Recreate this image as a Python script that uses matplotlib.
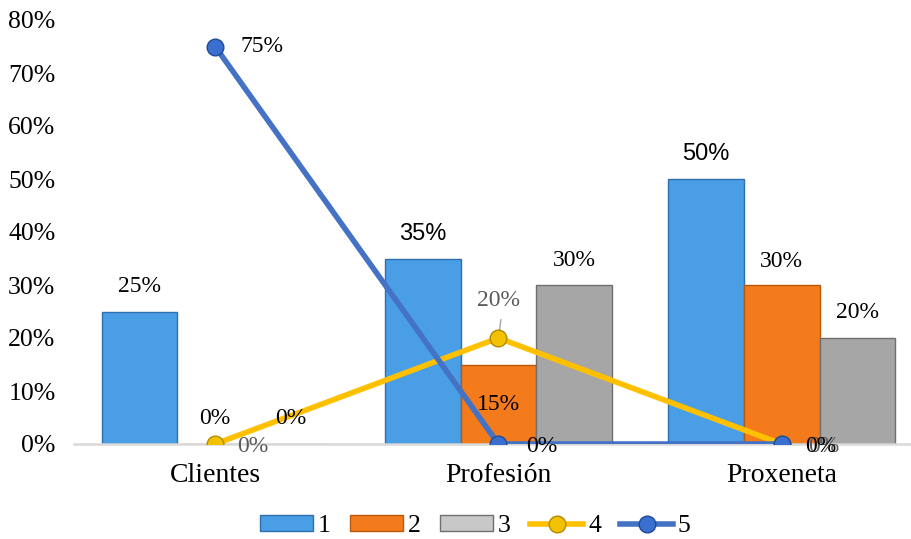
import numpy as np
import matplotlib.pyplot as plt
from matplotlib.lines import Line2D
from matplotlib.patches import Patch

# Data
categories = ["Clientes", "Profesión", "Proxeneta"]
serie_1 = [0.25, 0.35, 0.50]
serie_2 = [0.00, 0.15, 0.30]
serie_3 = [0.00, 0.30, 0.20]
serie_4 = [0.00, 0.20, 0.00]
serie_5 = [0.75, 0.00, 0.00]
legend_labels = ["1", "2", "3", "4", "5"]
y_ticks = [0.0, 0.1, 0.2, 0.3, 0.4, 0.5, 0.6, 0.7, 0.8]

plt.rcParams["font.family"] = ["Liberation Serif", "DejaVu Serif"]

fig = plt.figure(figsize=(9.11, 5.39), dpi=100)
ax = fig.add_axes([73.5 / 911, 95 / 539, (911 - 73.5) / 911, 424 / 539])

x = np.arange(len(categories))
width = 0.267

bar_styles = [
    ("#4a9ee6", "#2f6fae"),
    ("#f37b1c", "#b8580d"),
    ("#a6a6a6", "#6f6f6f"),
]
bar_series = [serie_1, serie_2, serie_3]
for i, (vals, (fc, ec)) in enumerate(zip(bar_series, bar_styles)):
    ax.bar(x + (i - 1) * width, vals, width, color=fc, edgecolor=ec,
           linewidth=1.0, zorder=2)

ax.plot(x, serie_4, color="#ffc000", linewidth=4, marker="o", markersize=12,
        markerfacecolor="#f2c200", markeredgecolor="#b08a00", zorder=4)
ax.plot(x, serie_5, color="#4472c4", linewidth=4, marker="o", markersize=12,
        markerfacecolor="#3a6fd0", markeredgecolor="#1f4a94", zorder=5)


def pct(v):
    return f"{v * 100:.0f}%"


def label(xv, yv, text, dx, dy, color="black", family=None):
    kw = {}
    if family:
        kw["family"] = family
    ax.annotate(text, (xv, yv), xytext=(dx, dy), textcoords="offset points",
                ha="center", va="center", fontsize=17, color=color, zorder=6, **kw)


# bar labels
for i, v in enumerate(serie_1):
    fam = ["Liberation Sans"] if i > 0 else None
    label(x[i] - width, v, pct(v), 0, 18, family=fam)
label(x[0], serie_2[0], pct(serie_2[0]), 0, 18)
label(x[1], serie_2[1], pct(serie_2[1]), 0, -29)
label(x[2], serie_2[2], pct(serie_2[2]), 0, 17)
for i, v in enumerate(serie_3):
    label(x[i] + width, v, pct(v), 0, 18)

# line 4 labels
label(x[0], serie_4[0], pct(serie_4[0]), 27, -2, color="#595959")
label(x[1], serie_4[1], pct(serie_4[1]), 0, 27, color="#595959")
ax.annotate("", (x[1], serie_4[1]), xytext=(x[1] + 0.01, serie_4[1] + 0.04),
            arrowprops=dict(arrowstyle="-", color="#a6a6a6", lw=1), zorder=3)
label(x[2], serie_4[2], pct(serie_4[2]), 30, -2, color="#595959")

# line 5 labels
label(x[0], serie_5[0], pct(serie_5[0]), 34, 0)
label(x[1], serie_5[1], pct(serie_5[1]), 31, -2)
label(x[2], serie_5[2], pct(serie_5[2]), 28, -2)

ax.set_xlim(-0.5, -0.5 + (911 - 73.5) / 283.3)
ax.set_ylim(0, 0.8)
ax.set_yticks(y_ticks)
ax.set_yticklabels([pct(t) for t in y_ticks])
ax.set_xticks(x)
ax.set_xticklabels(categories)
ax.tick_params(axis="y", length=0, pad=13, labelsize=18.5)
ax.tick_params(axis="x", length=0, pad=14, labelsize=20)
for s in ["top", "right", "left"]:
    ax.spines[s].set_visible(False)
ax.spines["bottom"].set_color("#d9d9d9")
ax.spines["bottom"].set_linewidth(1.8)

handles = [
    Patch(facecolor=bar_styles[0][0], edgecolor=bar_styles[0][1]),
    Patch(facecolor=bar_styles[1][0], edgecolor=bar_styles[1][1]),
    Patch(facecolor="#c8c8c8", edgecolor=bar_styles[2][1]),
    Line2D([], [], color="#ffc000", linewidth=4, marker="o", markersize=12,
           markerfacecolor="#f2c200", markeredgecolor="#b08a00"),
    Line2D([], [], color="#4472c4", linewidth=4, marker="o", markersize=12,
           markerfacecolor="#3a6fd0", markeredgecolor="#1f4a94"),
]
fig.legend(handles, legend_labels, loc="center", bbox_to_anchor=(0.522, 1 - 526 / 539),
           ncol=5, frameon=False, fontsize=18.5, handlelength=2.05, handleheight=0.55,
           handletextpad=0.2, columnspacing=0.75, borderpad=0.2)

fig.savefig("out.png", dpi=100)
